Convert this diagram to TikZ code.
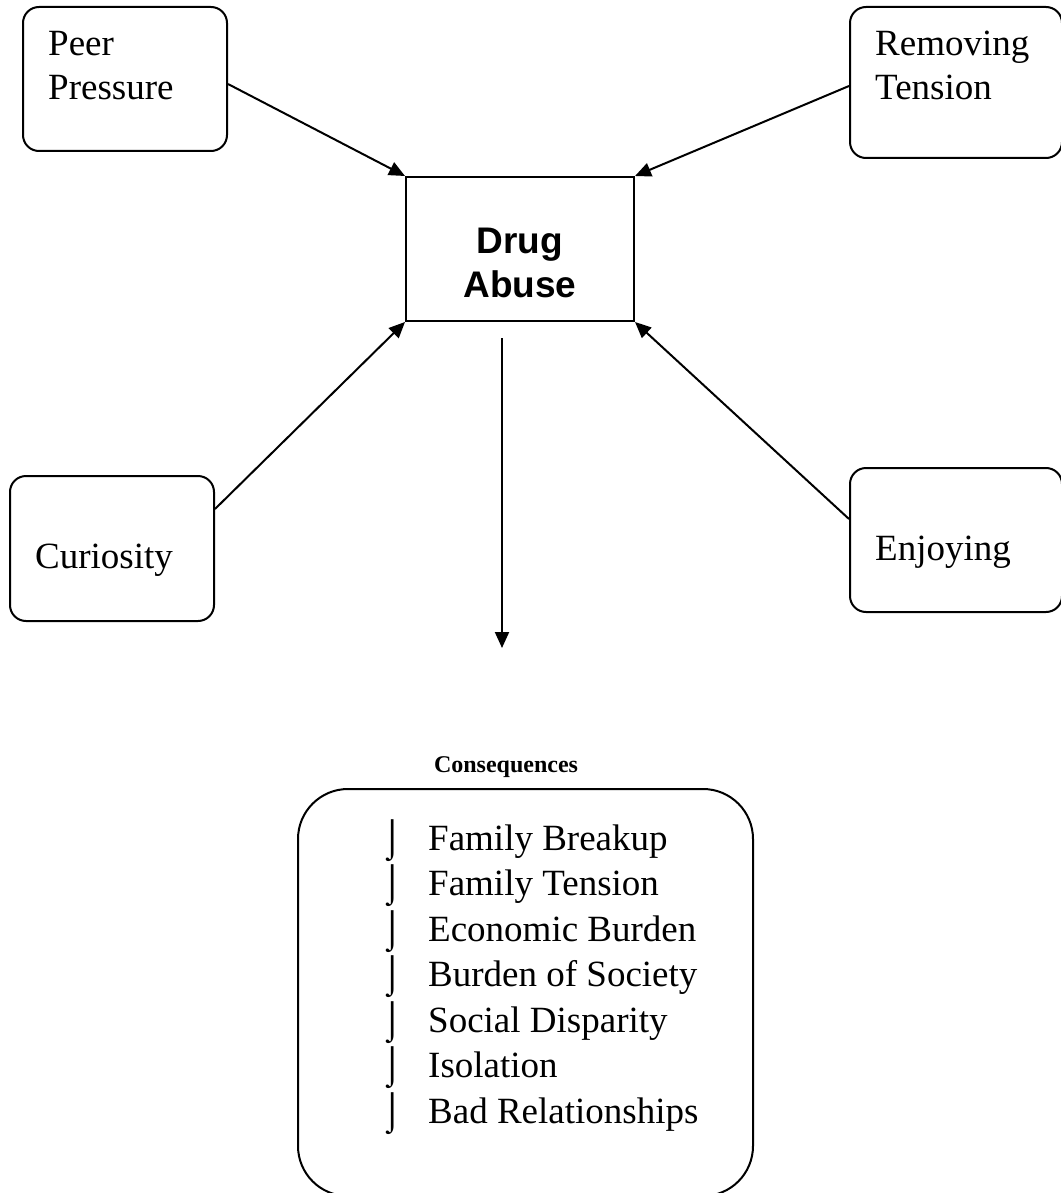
\documentclass[tikz,border=0pt]{standalone}
\usepackage{fontspec}
\setmainfont{Liberation Serif}
\newfontfamily\arialfont{Liberation Sans}
\usetikzlibrary{calc,arrows.meta}

\tikzset{
	causebox/.style={draw, line width=2pt, rounded corners=16pt, inner sep=0pt},
	boxtext/.style={anchor=base west, inner sep=0pt, align=left, font=\fontsize{37}{44}\selectfont},
	arr/.style={line width=2pt, -{Triangle[length=16pt,width=14pt]}}
}

\begin{document}
\begin{tikzpicture}[x=1pt, y=-1pt]
			%%%%% START %%%%%
			\useasboundingbox (0,0) rectangle (1060,1193);
			
			\node[causebox, minimum width=204pt, minimum height=144pt] (pp) at (125, 79) {};
			\node[boxtext] (pptext) at (48, 100) {Peer\\Pressure};
			
			\node[causebox, minimum width=212pt, minimum height=151pt] (rt) at (956, 82.5) {};
			\node[boxtext] (rttext) at (875, 100) {Removing\\Tension};
			
			\node[causebox, minimum width=204pt, minimum height=145pt] (cu) at (112, 548.5) {};
			\node[boxtext] (cutext) at (35, 568) {Curiosity};
			
			\node[causebox, minimum width=212pt, minimum height=144pt] (en) at (956, 540) {};
			\node[boxtext] (entext) at (875, 560) {Enjoying};
			
			\node[draw, line width=2pt, inner sep=0pt, minimum width=228pt, minimum height=144pt] (da) at (520, 249) {};
			\node[anchor=base, inner sep=0pt, align=center, font=\arialfont\bfseries\fontsize{37}{44}\selectfont] (datext) at (520, 297) {Drug\\Abuse};
			
			\draw[arr] ($(pp.north east)+(0,78)$) -- (da.north west);
			\draw[arr] ($(rt.north west)+(0,80)$) -- (da.north east);
			\draw[arr] ($(cu.north east)+(0,34)$) -- (da.south west);
			\draw[arr] ($(en.north west)+(0,52)$) -- (da.south east);
			
			\coordinate (dtop) at (502, 338);
			\coordinate (dend) at (502, 648);
			\draw[arr] (dtop) -- (dend);
			
			\node[anchor=base, inner sep=0pt, font=\bfseries\fontsize{24}{29}\selectfont] (cons) at (506, 772) {Consequences};
			
			\node[draw, line width=2pt, rounded corners=50pt, inner sep=0pt, minimum width=455pt, minimum height=407pt] (consbox) at (525.5, 992.5) {};
			\node[boxtext, font=\fontsize{37}{45.5}\selectfont] (conslist) at (381, 1123) {%
				\makebox[47pt][l]{⌡}Family Breakup\\
				\makebox[47pt][l]{⌡}Family Tension\\
				\makebox[47pt][l]{⌡}Economic Burden\\
				\makebox[47pt][l]{⌡}Burden of Society\\
				\makebox[47pt][l]{⌡}Social Disparity\\
				\makebox[47pt][l]{⌡}Isolation\\
				\makebox[47pt][l]{⌡}Bad Relationships};
			
			%%%%% END %%%%%
\end{tikzpicture}
\end{document}
